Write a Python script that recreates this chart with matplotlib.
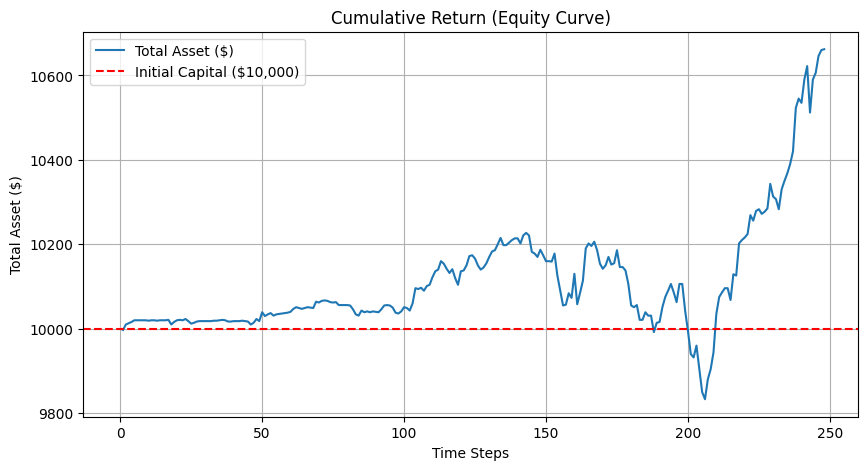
import matplotlib
matplotlib.use("Agg")
import matplotlib.pyplot as plt
import numpy as np

initial_capital = 10000

# total asset value at each time step
total_asset = [
    9997, 10010, 10013, 10016, 10020, 10020, 10020, 10020, 10020, 10019,
    10020, 10020, 10019, 10020, 10020, 10020, 10021, 10010, 10016, 10020,
    10021, 10020, 10023, 10018, 10012, 10014, 10017, 10018, 10018, 10018,
    10018, 10018, 10019, 10019, 10020, 10021, 10020, 10017, 10017, 10018,
    10018, 10018, 10019, 10018, 10017, 10010, 10014, 10023, 10018, 10039,
    10030, 10034, 10037, 10031, 10034, 10035, 10036, 10037, 10038, 10040,
    10047, 10051, 10049, 10047, 10049, 10051, 10050, 10049, 10064, 10062,
    10066, 10067, 10066, 10063, 10062, 10063, 10056, 10056, 10056, 10056,
    10055, 10046, 10034, 10031, 10043, 10039, 10041, 10039, 10041, 10040,
    10039, 10046, 10055, 10056, 10055, 10050, 10038, 10036, 10041, 10051,
    10049, 10043, 10060, 10096, 10094, 10097, 10090, 10101, 10104, 10122,
    10136, 10140, 10160, 10154, 10142, 10132, 10141, 10120, 10104, 10136,
    10138, 10150, 10172, 10174, 10166, 10150, 10140, 10145, 10155, 10170,
    10183, 10186, 10200, 10215, 10198, 10198, 10204, 10210, 10214, 10214,
    10202, 10221, 10227, 10221, 10182, 10178, 10170, 10187, 10174, 10160,
    10160, 10159, 10178, 10126, 10090, 10055, 10057, 10084, 10073, 10130,
    10058, 10085, 10114, 10190, 10202, 10196, 10206, 10186, 10154, 10142,
    10150, 10170, 10152, 10155, 10186, 10146, 10146, 10138, 10106, 10055,
    10051, 10056, 10021, 10021, 10039, 10031, 10031, 9992, 10014, 10016,
    10051, 10075, 10090, 10106, 10086, 10063, 10106, 10106, 10043, 9995,
    9940, 9932, 9960, 9904, 9850, 9833, 9880, 9904, 9944, 10035,
    10075, 10086, 10096, 10096, 10068, 10129, 10126, 10202, 10210, 10216,
    10224, 10269, 10256, 10279, 10283, 10272, 10277, 10285, 10343, 10313,
    10307, 10283, 10330, 10350, 10368, 10390, 10420, 10523, 10545, 10535,
    10590, 10622, 10512, 10590, 10606, 10646, 10660, 10662,
]
time_steps = np.arange(1, len(total_asset) + 1)

fig, ax = plt.subplots(figsize=(10, 5))

ax.plot(time_steps, total_asset, label="Total Asset ($)")
ax.axhline(initial_capital, color="red", linestyle="--",
           label="Initial Capital ($10,000)")

ax.set_title("Cumulative Return (Equity Curve)")
ax.set_xlabel("Time Steps")
ax.set_ylabel("Total Asset ($)")
ax.set_xlim(-13, 260)
ax.legend(loc="upper left")
ax.grid(True)

plt.savefig("out.png", dpi=100, bbox_inches="tight")
